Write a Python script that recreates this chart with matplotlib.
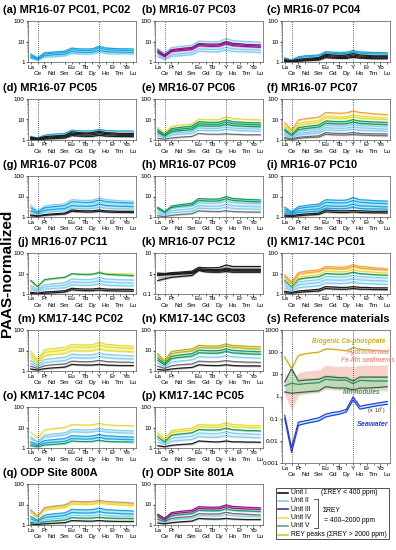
import matplotlib
matplotlib.use("Agg")
import matplotlib.pyplot as plt
import numpy as np
from matplotlib.ticker import LogLocator, FuncFormatter, NullFormatter
from matplotlib.patches import Rectangle

plt.rcParams['font.family'] = ['Liberation Sans', 'DejaVu Sans']

# element order (Pm left out, so a gap stays between Nd and Sm)
ree = ['La', 'Ce', 'Pr', 'Nd', 'Sm', 'Eu', 'Gd', 'Tb', 'Dy', 'Y', 'Ho', 'Er', 'Tm', 'Yb', 'Lu']
xpos = [0, 1, 2, 3, 5, 6, 7, 8, 9, 10, 11, 12, 13, 14, 15]
lower_row = ['Ce', 'Nd', 'Sm', 'Gd', 'Dy', 'Ho', 'Tm', 'Lu']

# ---- PAAS-normalized values ----
a_II = [[2.4, 1.6, 2.8, 3.0, 3.4, 4.8, 4.4, 4.3, 4.4, 5.8, 4.8, 4.6, 4.4, 4.4, 4.3],
        [2.0, 1.4, 2.4, 2.6, 2.9, 4.0, 3.7, 3.6, 3.7, 4.8, 4.0, 3.9, 3.7, 3.7, 3.6],
        [1.7, 1.3, 2.0, 2.2, 2.4, 3.2, 3.0, 2.9, 3.0, 3.7, 3.2, 3.1, 3.0, 3.0, 2.9]]
a_IIl = [[1.5, 1.2, 1.7, 1.8, 2.0, 2.6, 2.5, 2.4, 2.5, 3.0, 2.6, 2.5, 2.5, 2.5, 2.4]]

b_IIl = [[4.5, 2.6, 5.0, 5.6, 6.6, 10.5, 10, 9.6, 10, 14, 11, 10.5, 10, 9.6, 9.2],
         [2.2, 1.4, 2.3, 2.5, 2.9, 4.4, 4.2, 4.1, 4.2, 5.2, 4.4, 4.2, 4.0, 3.9, 3.8],
         [1.8, 1.3, 1.9, 2.0, 2.3, 3.4, 3.2, 3.1, 3.2, 3.9, 3.3, 3.2, 3.1, 3.0, 2.9]]
b_III = [[3.8, 2.2, 4.0, 4.4, 5.2, 8.0, 7.6, 7.4, 7.6, 10.0, 8.2, 7.8, 7.2, 7.0, 6.8],
         [3.2, 2.0, 3.6, 4.0, 4.6, 7.2, 6.8, 6.6, 6.8, 8.8, 7.2, 6.8, 6.4, 6.2, 6.0],
         [2.8, 1.8, 3.2, 3.5, 4.0, 6.2, 5.9, 5.7, 5.9, 7.6, 6.2, 5.9, 5.6, 5.4, 5.2]]

c_II = [[1.6, 1.25, 1.8, 2.0, 2.2, 3.2, 3.0, 2.9, 3.0, 3.6, 3.1, 3.0, 2.9, 2.9, 2.8],
        [1.45, 1.2, 1.6, 1.8, 2.0, 2.8, 2.6, 2.55, 2.6, 3.1, 2.7, 2.6, 2.5, 2.5, 2.45]]
c_I = [[1.3, 1.15, 1.35, 1.45, 1.65, 2.4, 2.2, 2.1, 2.2, 2.6, 2.2, 2.1, 2.0, 2.0, 2.0],
       [1.2, 1.1, 1.25, 1.35, 1.5, 2.1, 1.95, 1.9, 1.9, 2.2, 1.95, 1.9, 1.8, 1.8, 1.8],
       [1.1, 1.05, 1.15, 1.25, 1.35, 1.85, 1.7, 1.65, 1.65, 1.9, 1.7, 1.65, 1.6, 1.6, 1.6],
       [1.05, 1.0, 1.08, 1.15, 1.25, 1.65, 1.55, 1.5, 1.5, 1.7, 1.55, 1.5, 1.45, 1.45, 1.45]]

d_II = [[1.5, 1.25, 1.7, 1.9, 2.1, 3.0, 2.8, 2.75, 2.8, 3.3, 2.9, 2.8, 2.75, 2.75, 2.7]]
d_I = [[1.35, 1.2, 1.45, 1.55, 1.7, 2.5, 2.3, 2.2, 2.3, 2.7, 2.3, 2.2, 2.1, 2.1, 2.1],
       [1.25, 1.12, 1.3, 1.4, 1.55, 2.2, 2.05, 2.0, 2.0, 2.35, 2.05, 2.0, 1.9, 1.9, 1.9],
       [1.15, 1.05, 1.2, 1.28, 1.4, 1.9, 1.8, 1.75, 1.75, 2.0, 1.8, 1.75, 1.7, 1.7, 1.7],
       [1.05, 1.0, 1.1, 1.15, 1.25, 1.65, 1.55, 1.5, 1.5, 1.7, 1.55, 1.5, 1.48, 1.48, 1.45]]

e_Ig = [[1.2, 1.1, 1.25, 1.35, 1.5, 2.1, 1.95, 1.9, 1.9, 2.0, 1.9, 1.85, 1.8, 1.8, 1.8]]
e_IIl = [[1.9, 1.4, 2.1, 2.3, 2.6, 3.9, 3.7, 3.6, 3.7, 4.4, 3.8, 3.7, 3.5, 3.5, 3.4],
         [1.6, 1.3, 1.7, 1.9, 2.1, 3.0, 2.9, 2.8, 2.9, 3.4, 3.0, 2.9, 2.8, 2.7, 2.7]]
e_V = [[3.2, 1.9, 3.6, 4.0, 4.8, 7.8, 7.4, 7.2, 7.4, 9.5, 7.8, 7.5, 7.1, 7.0, 6.8],
       [2.7, 1.7, 3.0, 3.3, 3.9, 6.2, 5.9, 5.8, 5.9, 7.5, 6.2, 6.0, 5.7, 5.6, 5.4],
       [2.3, 1.55, 2.5, 2.8, 3.2, 5.0, 4.8, 4.7, 4.8, 5.8, 5.0, 4.8, 4.6, 4.5, 4.4]]
e_IV = [[4.0, 2.2, 4.6, 5.2, 6.2, 10.5, 10, 9.8, 10, 13.5, 11, 10.5, 10, 9.8, 9.5]]

f_Ig = [[1.3, 1.15, 1.35, 1.45, 1.6, 2.3, 2.15, 2.1, 2.1, 2.3, 2.1, 2.05, 2.0, 2.0, 1.95],
        [1.15, 1.05, 1.2, 1.3, 1.4, 1.9, 1.8, 1.75, 1.75, 1.85, 1.75, 1.7, 1.65, 1.65, 1.6]]
f_IIl = [[2.3, 1.5, 2.6, 2.9, 3.4, 5.2, 5.0, 4.8, 5.0, 5.8, 5.0, 4.9, 4.7, 4.6, 4.4],
         [1.9, 1.4, 2.1, 2.3, 2.7, 4.0, 3.8, 3.7, 3.8, 4.4, 3.9, 3.8, 3.6, 3.5, 3.4],
         [1.6, 1.3, 1.75, 1.9, 2.2, 3.1, 3.0, 2.9, 3.0, 3.4, 3.0, 2.9, 2.8, 2.8, 2.7]]
f_V = [[3.4, 1.9, 4.0, 4.5, 5.4, 8.5, 8.1, 7.9, 8.1, 9.8, 8.3, 8.0, 7.6, 7.4, 7.2],
       [2.8, 1.7, 3.2, 3.6, 4.3, 6.6, 6.3, 6.1, 6.3, 7.5, 6.4, 6.2, 5.9, 5.8, 5.6]]
f_IV = [[5.0, 2.5, 6.5, 7.5, 9, 15, 14, 13.5, 14, 17, 14.5, 14, 13, 12.5, 12],
        [4.2, 2.2, 5.2, 6.0, 7.2, 12, 11.4, 11, 11.4, 13.5, 11.6, 11.2, 10.5, 10.2, 9.8]]
f_pk = [[7.0, 3.0, 9.5, 11, 13, 22, 21, 20, 21, 26, 22, 21, 19, 18, 17]]

g_I = [[1.25, 1.15, 1.3, 1.4, 1.55, 2.2, 2.05, 2.0, 2.0, 2.2, 2.0, 1.95, 1.9, 1.9, 1.9],
       [1.15, 1.08, 1.2, 1.28, 1.4, 1.9, 1.8, 1.75, 1.75, 1.9, 1.75, 1.7, 1.68, 1.68, 1.65]]
g_IIl = [[3.8, 1.9, 3.4, 3.8, 4.4, 7.0, 6.6, 6.4, 6.6, 8.5, 7.0, 6.6, 6.2, 6.0, 5.8],
         [1.6, 1.35, 1.7, 1.8, 2.0, 2.7, 2.6, 2.5, 2.6, 3.0, 2.7, 2.6, 2.5, 2.5, 2.45]]
g_II = [[2.8, 1.7, 2.8, 3.1, 3.6, 5.6, 5.3, 5.1, 5.3, 6.8, 5.6, 5.3, 5.0, 4.9, 4.7],
        [2.0, 1.5, 2.1, 2.3, 2.6, 3.6, 3.4, 3.3, 3.4, 4.2, 3.6, 3.5, 3.3, 3.3, 3.2]]

h_Ig = [[1.15, 1.05, 1.2, 1.3, 1.45, 2.0, 1.9, 1.85, 1.85, 2.0, 1.85, 1.8, 1.75, 1.75, 1.75]]
h_IIl = [[2.4, 1.6, 2.6, 2.9, 3.3, 5.0, 4.8, 4.7, 4.8, 6.0, 5.0, 4.8, 4.6, 4.5, 4.3],
         [1.9, 1.4, 2.0, 2.2, 2.5, 3.6, 3.4, 3.3, 3.4, 4.2, 3.5, 3.4, 3.3, 3.2, 3.1],
         [1.5, 1.25, 1.6, 1.7, 1.9, 2.7, 2.6, 2.5, 2.6, 3.0, 2.6, 2.5, 2.5, 2.4, 2.4]]
h_V = [[3.0, 1.8, 3.4, 3.9, 4.7, 8.0, 7.6, 7.4, 7.6, 10, 8.0, 7.6, 7.2, 7.0, 6.8],
       [2.6, 1.7, 2.9, 3.3, 3.9, 6.4, 6.1, 5.9, 6.1, 7.8, 6.4, 6.1, 5.8, 5.6, 5.4]]

i_I = [[1.25, 1.15, 1.3, 1.4, 1.55, 2.2, 2.05, 2.0, 2.0, 2.1, 2.0, 1.95, 1.9, 1.9, 1.9],
       [1.1, 1.05, 1.15, 1.22, 1.35, 1.8, 1.7, 1.65, 1.65, 1.75, 1.65, 1.62, 1.6, 1.6, 1.58]]
i_II = [[3.0, 1.8, 3.2, 3.6, 4.3, 7.0, 6.7, 6.5, 6.7, 8.8, 7.0, 6.7, 6.3, 6.1, 5.9],
        [2.4, 1.6, 2.6, 2.9, 3.4, 5.2, 5.0, 4.8, 5.0, 6.3, 5.2, 5.0, 4.7, 4.6, 4.4],
        [1.9, 1.45, 2.0, 2.2, 2.5, 3.6, 3.4, 3.3, 3.4, 4.2, 3.5, 3.4, 3.3, 3.2, 3.1],
        [1.55, 1.3, 1.65, 1.75, 1.95, 2.7, 2.6, 2.5, 2.6, 3.0, 2.6, 2.5, 2.5, 2.45, 2.4]]

j_I = [[1.2, 1.1, 1.25, 1.3, 1.45, 1.9, 1.8, 1.75, 1.75, 1.9, 1.75, 1.7, 1.7, 1.7, 1.65],
       [1.05, 1.0, 1.08, 1.12, 1.25, 1.6, 1.5, 1.45, 1.45, 1.55, 1.45, 1.42, 1.4, 1.4, 1.38]]
j_IIl = [[2.6, 1.7, 2.8, 3.1, 3.6, 5.4, 5.2, 5.0, 5.2, 6.4, 5.4, 5.2, 5.0, 4.9, 4.8],
         [2.0, 1.5, 2.2, 2.4, 2.7, 3.9, 3.7, 3.6, 3.7, 4.5, 3.8, 3.7, 3.5, 3.5, 3.4],
         [1.6, 1.3, 1.7, 1.85, 2.0, 2.8, 2.7, 2.6, 2.7, 3.1, 2.7, 2.6, 2.55, 2.5, 2.5]]
j_IV = [[4.0, 2.2, 4.8, 5.4, 6.4, 9.6, 9.2, 9.0, 9.2, 12, 10, 9.8, 9.6, 9.6, 9.4]]
j_V = [[4.6, 2.3, 5.0, 5.6, 6.6, 9.8, 9.3, 9.0, 9.2, 11, 9.2, 8.8, 8.4, 8.2, 7.8]]

k_I = [[1.05, 1.0, 1.1, 1.15, 1.3, 2.0, 1.9, 1.9, 1.95, 2.6, 2.2, 2.2, 2.2, 2.2, 2.2],
       [0.95, 0.95, 1.0, 1.05, 1.15, 1.7, 1.6, 1.55, 1.55, 1.8, 1.6, 1.6, 1.6, 1.6, 1.6],
       [0.88, 0.9, 0.95, 1.0, 1.08, 1.55, 1.45, 1.4, 1.4, 1.6, 1.45, 1.45, 1.45, 1.45, 1.45],
       [0.8, 0.85, 0.88, 0.92, 1.0, 1.45, 1.35, 1.3, 1.3, 1.45, 1.32, 1.3, 1.3, 1.3, 1.3],
       [0.45, 0.55, 0.65, 0.7, 0.8, 1.4, 1.2, 1.15, 1.15, 1.25, 1.15, 1.15, 1.15, 1.15, 1.15]]

l_I = [[1.35, 1.2, 1.4, 1.5, 1.7, 2.3, 2.2, 2.1, 2.1, 2.3, 2.1, 2.1, 2.0, 2.0, 2.0],
       [1.15, 1.08, 1.2, 1.28, 1.4, 1.85, 1.75, 1.7, 1.7, 1.85, 1.7, 1.7, 1.65, 1.65, 1.62]]
l_IIl = [[3.4, 2.0, 3.8, 4.3, 5.0, 7.2, 6.9, 6.7, 6.9, 8.2, 7.0, 6.8, 6.4, 6.2, 6.0],
         [2.5, 1.7, 2.8, 3.1, 3.6, 5.0, 4.8, 4.7, 4.8, 5.6, 4.9, 4.7, 4.5, 4.4, 4.2],
         [1.9, 1.45, 2.0, 2.2, 2.5, 3.4, 3.3, 3.2, 3.3, 3.8, 3.3, 3.2, 3.1, 3.0, 2.9]]
l_V = [[4.5, 2.3, 5.2, 6, 7, 10, 9.5, 9.2, 9.5, 11.5, 9.8, 9.4, 8.8, 8.5, 8.2]]
l_IV = [[5.5, 2.6, 6.5, 7.5, 9, 13, 12.5, 12, 12.5, 15.5, 13, 12.5, 11.5, 11, 10.5]]
l_pk = [[8.5, 3.8, 11, 13, 15, 22, 21, 20, 21, 27, 22, 21, 19, 18, 17],
        [7, 3.2, 9, 10.5, 12.5, 18, 17, 16.5, 17, 22, 18, 17, 16, 15, 14.5]]

m_I = [[1.25, 1.12, 1.3, 1.4, 1.55, 2.1, 2.0, 1.95, 1.95, 2.1, 1.95, 1.9, 1.85, 1.85, 1.85]]
m_Ig = [[1.7, 1.35, 1.8, 2.0, 2.2, 3.0, 2.9, 2.8, 2.9, 3.3, 2.9, 2.8, 2.7, 2.7, 2.6]]
m_IIl = [[3.2, 1.9, 3.6, 4.0, 4.7, 6.6, 6.3, 6.1, 6.3, 7.6, 6.4, 6.2, 5.9, 5.7, 5.5],
         [2.3, 1.6, 2.5, 2.8, 3.2, 4.5, 4.3, 4.2, 4.3, 5.1, 4.4, 4.2, 4.0, 3.9, 3.8]]
m_IV = [[9, 3.5, 11, 12.5, 14, 20, 19, 18.5, 19, 25, 20, 19, 17.5, 17, 16],
        [6.5, 2.8, 8, 9, 10.5, 15, 14.5, 14, 14.5, 18, 15, 14.5, 13.5, 13, 12.5],
        [4.5, 2.3, 5.5, 6.2, 7.2, 10, 9.6, 9.3, 9.6, 12, 10, 9.6, 9, 8.8, 8.5]]

n_I = [[1.2, 1.1, 1.25, 1.35, 1.5, 2.0, 1.9, 1.85, 1.85, 2.0, 1.85, 1.8, 1.78, 1.78, 1.75]]
n_Ig = [[1.7, 1.35, 1.8, 2.0, 2.2, 3.0, 2.9, 2.8, 2.9, 3.2, 2.9, 2.8, 2.7, 2.7, 2.6]]
n_IIl = [[2.4, 1.6, 2.7, 3.0, 3.5, 5.0, 4.8, 4.7, 4.8, 5.6, 4.9, 4.7, 4.5, 4.4, 4.2]]
n_V = [[4.2, 2.3, 5.2, 5.9, 7, 10.5, 10, 9.7, 10, 12, 10.2, 9.8, 9.2, 9, 8.7],
       [3.3, 2.0, 4.0, 4.5, 5.3, 7.8, 7.5, 7.3, 7.5, 9, 7.6, 7.3, 6.9, 6.7, 6.5]]
n_ol = [[7, 3.2, 9, 10, 12, 18, 17, 16.5, 17, 21, 17.5, 17, 16, 15.5, 15],
        [5.5, 2.7, 7, 8, 9.5, 14, 13.5, 13, 13.5, 16.5, 14, 13.5, 12.5, 12, 11.5]]

o_V = [[1.3, 1.15, 1.4, 1.5, 1.65, 2.2, 2.1, 2.05, 2.1, 2.4, 2.1, 2.05, 2.0, 2.0, 1.95]]
o_II = [[2.0, 1.5, 2.3, 2.5, 2.9, 4.0, 3.8, 3.7, 3.8, 4.6, 3.9, 3.8, 3.6, 3.5, 3.4],
        [1.6, 1.3, 1.75, 1.9, 2.1, 2.9, 2.8, 2.7, 2.8, 3.3, 2.8, 2.75, 2.65, 2.6, 2.55]]
o_IIl = [[3.5, 2.0, 4.2, 4.7, 5.5, 8, 7.7, 7.5, 7.7, 9.2, 7.8, 7.5, 7.1, 7, 6.8],
         [2.8, 1.8, 3.3, 3.7, 4.3, 6.2, 6, 5.8, 6, 7, 6, 5.8, 5.5, 5.4, 5.2]]
o_IV = [[6, 3.0, 7.5, 8.5, 10, 14, 13.5, 13, 13.5, 16, 13.5, 13, 12.5, 12.5, 12]]

p_I = [[1.3, 1.15, 1.35, 1.45, 1.6, 2.2, 2.1, 2.0, 2.0, 2.2, 2.0, 2.0, 1.95, 1.95, 1.9]]
p_IIl = [[2.6, 1.7, 3.0, 3.3, 3.8, 5.4, 5.2, 5.0, 5.2, 6.2, 5.3, 5.1, 4.9, 4.8, 4.6],
         [1.9, 1.45, 2.1, 2.3, 2.6, 3.6, 3.4, 3.3, 3.4, 4.0, 3.5, 3.4, 3.3, 3.2, 3.1]]
p_V = [[3.5, 2.0, 4.2, 4.7, 5.5, 8, 7.7, 7.5, 7.7, 9.3, 7.8, 7.5, 7.1, 7, 6.8]]
p_IV = [[5.5, 2.8, 7, 8, 9.5, 14, 13.5, 13, 13.5, 17, 14, 13.5, 12.5, 12.5, 12],
        [4.5, 2.4, 5.6, 6.4, 7.5, 11, 10.5, 10.2, 10.5, 13, 11, 10.5, 10, 9.8, 9.5]]

q_I = [[1.1, 1.05, 1.15, 1.2, 1.3, 1.65, 1.6, 1.55, 1.55, 1.65, 1.55, 1.52, 1.5, 1.5, 1.5]]
q_V = [[1.35, 1.2, 1.45, 1.55, 1.75, 2.3, 2.2, 2.15, 2.2, 2.4, 2.2, 2.15, 2.1, 2.1, 2.05]]
q_IIl = [[1.6, 1.3, 1.8, 1.95, 2.2, 3.0, 2.9, 2.8, 2.9, 3.2, 2.9, 2.8, 2.7, 2.7, 2.6]]
q_II = [[2.6, 1.7, 3.0, 3.4, 3.9, 5.8, 5.6, 5.4, 5.6, 6.6, 5.6, 5.4, 5.1, 5.0, 4.8],
        [2.0, 1.5, 2.3, 2.5, 2.9, 4.1, 3.9, 3.8, 3.9, 4.5, 3.9, 3.8, 3.6, 3.5, 3.4]]
q_IV = [[4.6, 2.4, 6, 7, 8.3, 12.5, 12, 11.7, 12, 14, 12.2, 11.8, 11.2, 10.8, 10.2],
        [4.0, 2.2, 5.2, 6, 7.1, 10.5, 10.2, 10, 10.2, 12, 10.4, 10, 9.5, 9.2, 8.8]]
q_br = [[5.5, 2.7, 7, 8, 9.5, 14.5, 14, 13.5, 14, 16, 14, 13.5, 13, 12.5, 11.5]]

r_I = [[1.25, 1.15, 1.3, 1.4, 1.55, 2.1, 2.0, 1.95, 1.95, 2.1, 1.95, 1.9, 1.85, 1.85, 1.85]]
r_IIl = [[1.6, 1.35, 1.75, 1.9, 2.1, 2.9, 2.8, 2.7, 2.8, 3.2, 2.8, 2.7, 2.6, 2.6, 2.5]]
r_Ig = [[1.9, 1.5, 2.1, 2.3, 2.6, 3.6, 3.5, 3.4, 3.5, 4.2, 3.6, 3.5, 3.3, 3.2, 3.1]]
r_V = [[2.4, 1.7, 2.8, 3.1, 3.6, 5.2, 5.0, 4.9, 5.0, 6.2, 5.2, 5.0, 4.8, 4.7, 4.5]]
r_III = [[3.4, 2.1, 4.0, 4.5, 5.3, 7.8, 7.5, 7.3, 7.5, 9.5, 8.0, 7.7, 7.3, 7.1, 6.9],
         [2.9, 1.9, 3.4, 3.8, 4.4, 6.4, 6.2, 6.0, 6.2, 7.8, 6.6, 6.3, 6.0, 5.9, 5.7]]

# reference materials (s)
ca_phosphate = [60, 18, 70, 85, 100, 140, 135, 125, 115, 160, 135, 128, 120, 118, 110]
femn_hi = [12, 4, 12, 14, 16, 26, 24, 23, 24, 22, 26, 26, 26, 26, 27]
femn_lo = [1.2, 0.25, 1.1, 1.3, 1.5, 2.2, 2.0, 1.9, 1.9, 1.5, 1.8, 1.8, 1.8, 1.8, 1.8]
nod_hi = [6, 20, 6.5, 7, 7.5, 10, 9.5, 9, 9, 6.5, 9, 9, 9, 9, 9]
nod_lo = [1.4, 1.2, 1.3, 1.4, 1.6, 2.5, 2.2, 2.1, 2.1, 1.7, 2.1, 2.1, 2.2, 2.3, 2.5]
nod_a = [4.5, 18, 5, 5.5, 6, 8, 7.5, 7, 7, 5, 7.5, 7.5, 7.5, 7.5, 7.5]
nod_b = [3.0, 4.0, 3.5, 3.8, 4.2, 6, 5.6, 5.4, 5.4, 3.8, 5.3, 5.2, 5.0, 5.0, 5.0]
nod_c = [1.6, 1.4, 1.5, 1.6, 1.8, 2.8, 2.5, 2.4, 2.4, 2.0, 2.4, 2.4, 2.5, 2.6, 2.8]
sw_hi = [0.14, 0.005, 0.07, 0.08, 0.11, 0.16, 0.19, 0.21, 0.26, 0.95, 0.36, 0.42, 0.47, 0.53, 0.6]
sw_lo = [0.1, 0.003, 0.05, 0.06, 0.08, 0.12, 0.14, 0.16, 0.2, 0.7, 0.27, 0.31, 0.36, 0.4, 0.45]

# line colour, band colour
STY = {
    'I': ('#1e1e1e', '#b5b5b5'),
    'Ig': ('#707070', '#d2d2d2'),
    'II': ('#1aa6e0', '#a6dcf3'),
    'IIl': ('#86cdee', '#d3eefa'),
    'III': ('#8b1a8b', '#eaaad8'),
    'IV': ('#e6de3c', '#f6f2a8'),
    'V': ('#1a9c68', '#a2dcc2'),
    'pk': ('#f3a73a', '#fbd7a0'),
    'ol': ('#b9b324', '#e6e3a0'),
    'br': ('#c99a80', '#efd8cc'),
}

panels = [
    ('(a) MR16-07 PC01, PC02', (1, 100), [('IIl', a_IIl), ('II', a_II)]),
    ('(b) MR16-07 PC03', (1, 100), [('IIl', b_IIl), ('III', b_III)]),
    ('(c) MR16-07 PC04', (1, 100), [('II', c_II), ('I', c_I)]),
    ('(d) MR16-07 PC05', (1, 100), [('II', d_II), ('I', d_I)]),
    ('(e) MR16-07 PC06', (1, 100), [('Ig', e_Ig), ('IIl', e_IIl), ('V', e_V), ('IV', e_IV)]),
    ('(f) MR16-07 PC07', (1, 100), [('Ig', f_Ig), ('IIl', f_IIl), ('V', f_V), ('IV', f_IV), ('pk', f_pk)]),
    ('(g) MR16-07 PC08', (1, 100), [('I', g_I), ('IIl', g_IIl), ('II', g_II)]),
    ('(h) MR16-07 PC09', (1, 100), [('Ig', h_Ig), ('IIl', h_IIl), ('V', h_V)]),
    ('(i) MR16-07 PC10', (1, 100), [('I', i_I), ('II', i_II)]),
    ('(j) MR16-07 PC11', (1, 100), [('I', j_I), ('IIl', j_IIl), ('IV', j_IV), ('V', j_V)]),
    ('(k) MR16-07 PC12', (0.1, 10), [('I', k_I)]),
    ('(l) KM17-14C PC01', (1, 100), [('I', l_I), ('IIl', l_IIl), ('V', l_V), ('IV', l_IV), ('pk', l_pk)]),
    ('(m) KM17-14C PC02', (1, 100), [('I', m_I), ('Ig', m_Ig), ('IIl', m_IIl), ('IV', m_IV)]),
    ('(n) KM17-14C GC03', (1, 100), [('I', n_I), ('Ig', n_Ig), ('IIl', n_IIl), ('V', n_V), ('ol', n_ol)]),
    ('(o) KM17-14C PC04', (1, 100), [('V', o_V), ('II', o_II), ('IIl', o_IIl), ('IV', o_IV)]),
    ('(p) KM17-14C PC05', (1, 100), [('I', p_I), ('IIl', p_IIl), ('V', p_V), ('IV', p_IV)]),
    ('(q) ODP Site 800A', (1, 100), [('I', q_I), ('V', q_V), ('IIl', q_IIl), ('II', q_II), ('IV', q_IV), ('br', q_br)]),
    ('(r) ODP Site 801A', (1, 100), [('I', r_I), ('IIl', r_IIl), ('Ig', r_Ig), ('V', r_V), ('III', r_III)]),
]
# grid slot (row, col) for each panel above
slots = [(0, 0), (0, 1), (0, 2), (1, 0), (1, 1), (1, 2), (2, 0), (2, 1), (2, 2),
         (3, 0), (3, 1), (3, 2), (4, 0), (4, 1), (5, 0), (5, 1), (6, 0), (6, 1)]

W, H = 396, 550
fig = plt.figure(figsize=(W / 100, H / 100), dpi=100)

col_left = [28, 155, 282]
title_x = [3, 142, 267]
title_y = [10, 88, 165, 242, 319, 396, 473]
AX_W, AX_H = 108, 41


def px_axes(x0, y0, w, h):
    return fig.add_axes([x0 / W, 1 - (y0 + h) / H, w / W, h / H])


up_pos = [p for p, e in zip(xpos, ree) if e not in lower_row]
up_lab = [e for e in ree if e not in lower_row]
lo_pos = [p for p, e in zip(xpos, ree) if e in lower_row]
lo_lab = [e for e in ree if e in lower_row]


def setup(ax, ylim, fs=4.6):
    ax.set_yscale('log')
    ax.set_ylim(*ylim)
    ax.set_xlim(-0.4, 15.4)
    # staggered element labels: upper row on major ticks, lower row on minor ticks
    ax.set_xticks(up_pos)
    ax.set_xticklabels(up_lab, fontsize=fs)
    ax.set_xticks(lo_pos, minor=True)
    ax.set_xticklabels(lo_lab, minor=True, fontsize=fs)
    ax.tick_params(axis='x', which='major', length=1.2, width=0.4, pad=0.6)
    ax.tick_params(axis='x', which='minor', length=1.2, width=0.4, pad=0.6 + fs * 0.95)
    ax.yaxis.set_major_locator(LogLocator(base=10))
    ax.yaxis.set_major_formatter(FuncFormatter(lambda v, p: '%g' % v))
    ax.yaxis.set_minor_formatter(NullFormatter())
    ax.tick_params(axis='y', which='major', labelsize=fs, length=1.5, width=0.4, pad=0.8)
    ax.tick_params(axis='y', which='minor', length=0.8, width=0.3)
    for s in ax.spines.values():
        s.set_linewidth(0.5)
        s.set_color('#555555')
    for xv in (xpos[ree.index('Ce')], xpos[ree.index('Y')]):
        ax.axvline(xv, color='#333333', ls=(0, (1, 1.5)), lw=0.6, zorder=5)


for (title, ylim, groups), (r, c) in zip(panels, slots):
    ax = px_axes(col_left[c], title_y[r] + 11, AX_W, AX_H)
    setup(ax, ylim)
    for key, lines in groups:
        lc, bc = STY[key]
        arr = np.array(lines)
        ax.fill_between(xpos, arr.min(axis=0) * 0.9, arr.max(axis=0) * 1.1, color=bc, lw=0, alpha=0.8)
        for ln in lines:
            ax.plot(xpos, ln, color=lc, lw=0.9)
    tx = title_x[c]
    if c == 0 and r in (3, 4):
        tx = 18  # keep clear of the shared y label
    fig.text(tx / W, 1 - title_y[r] / H, title, fontsize=8, fontweight='bold', va='center', ha='left')

# (s) reference materials
ax = px_axes(col_left[2], 330, AX_W, 133)
setup(ax, (0.001, 1000))
ax.fill_between(xpos, femn_lo, femn_hi, color='#f6c4b6', lw=0, alpha=0.75)
ax.fill_between(xpos, nod_lo, nod_hi, color='#a9dfb4', lw=0, alpha=0.75)
ax.plot(xpos, nod_c, color='#555555', lw=0.9)
ax.plot(xpos, nod_b, color='#2f8f60', lw=0.9)
ax.plot(xpos, nod_a, color='#4a5a50', lw=0.9)
ax.fill_between(xpos, sw_lo, sw_hi, color='#a8ecf6', lw=0, alpha=0.9)
ax.plot(xpos, sw_hi, color='#2a40d8', lw=0.9)
ax.plot(xpos, sw_lo, color='#2a40d8', lw=0.9)
ax.plot(xpos, ca_phosphate, color='#c9b414', lw=1.0)
lab = dict(fontsize=4.8, fontweight='bold', style='italic', ha='center', va='center')
ax.text(9.4, 290, 'Biogenic Ca-phosphate', color='#c9b414', **lab)
ax.text(12.2, 95, 'Hydrothermal', color='#e69a86', **lab)
ax.text(12.2, 40, 'Fe-Mn sediments', color='#e69a86', **lab)
ax.text(11.2, 1.5, 'Mn nodules', color='#3a9a6a', **lab)
ax.text(13.4, 0.22, r'($\times$ 10$^{7}$)', color='#222222', fontsize=3.6, ha='center', va='center')
ax.text(12.9, 0.055, 'Seawater', color='#2a40d8', fontsize=5.2, fontweight='bold', style='italic', ha='center', va='center')
fig.text(title_x[2] / W, 1 - 319 / H, '(s) Reference materials', fontsize=8, fontweight='bold', va='center', ha='left')

# legend box
lg = px_axes(275, 487, 115, 53)
lg.set_xlim(0, 1)
lg.set_ylim(0, 1)
lg.axis('off')
lg.add_patch(Rectangle((0.005, 0.01), 0.99, 0.98, fill=False, lw=0.6, ec='#333333', transform=lg.transAxes))
units = ['Unit I', 'Unit II', 'Unit III', 'Unit IV', 'Unit V', 'REY peaks (ΣREY > 2000 ppm)']
unit_cols = ['#111111', '#8cc8ee', '#4b2c9e', '#e8e840', '#6a9a90', '#c8c83a']
rows_y = [0.89, 0.74, 0.58, 0.42, 0.27, 0.1]
for name, colr, yy in zip(units, unit_cols, rows_y):
    lg.plot([0.03, 0.11], [yy, yy], color=colr, lw=1.2)
    lg.text(0.14, yy, name, fontsize=4.9, va='center', ha='left')
lg.text(0.40, rows_y[0], '(ΣREY < 400 ppm)', fontsize=4.9, va='center', ha='left')
lg.plot([0.34, 0.37, 0.37, 0.34], [rows_y[1] + 0.04, rows_y[1] + 0.04, rows_y[4] - 0.04, rows_y[4] - 0.04],
        color='#111111', lw=0.5)
lg.text(0.41, rows_y[2] - 0.02, 'ΣREY', fontsize=4.9, va='center', ha='left')
lg.text(0.43, (rows_y[3] + rows_y[4]) / 2 + 0.03, '= 400–2000 ppm', fontsize=4.9, va='center', ha='left')

fig.text(7 / W, 1 - 273 / H, 'PAAS-normalized', rotation=90, fontsize=11, fontweight='bold', va='center', ha='center')

fig.savefig('out.png', dpi=100)
